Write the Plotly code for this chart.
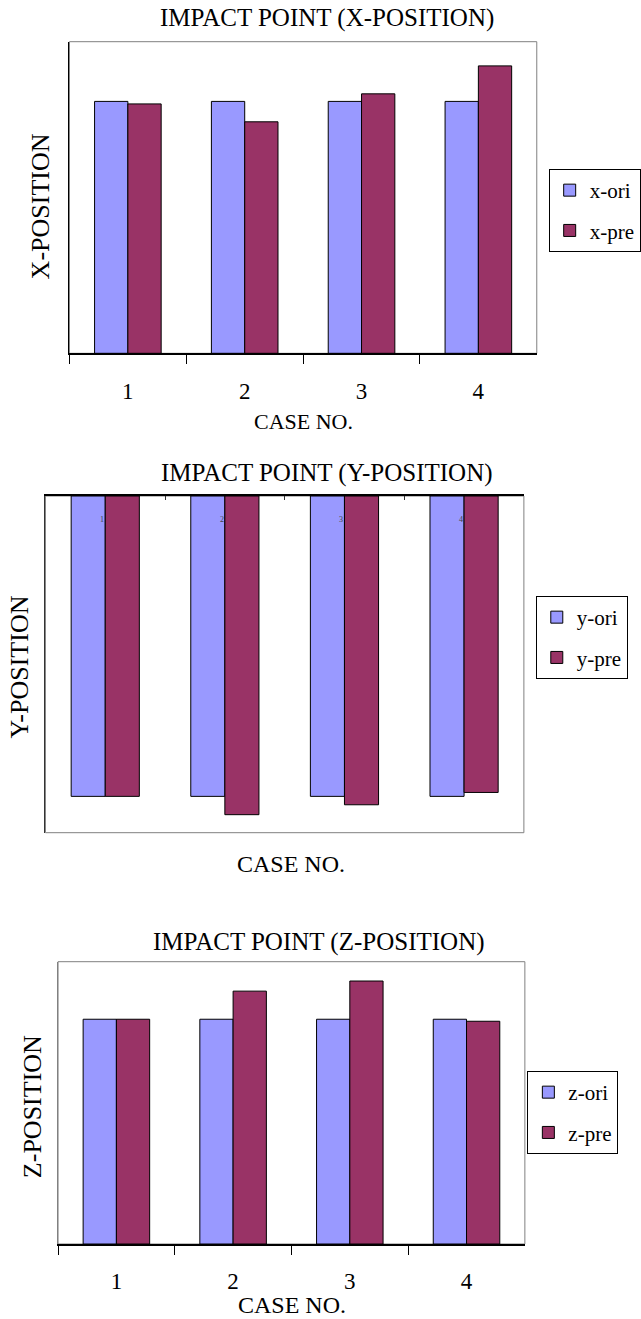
import plotly.graph_objects as go

# Impact point comparison: original vs predicted positions for four cases
cases = ["1", "2", "3", "4"]

x_ori = [10.0, 10.0, 10.0, 10.0]
x_pre = [9.90, 9.19, 10.30, 11.41]

y_ori = [-10.0, -10.0, -10.0, -10.0]
y_pre = [-10.0, -10.61, -10.28, -9.87]

z_ori = [10.0, 10.0, 10.0, 10.0]
z_pre = [10.0, 11.25, 11.70, 9.91]

W, H = 641, 1319
ORI_COLOR = "#9999FF"
PRE_COLOR = "#993366"
FONT = "Liberation Serif, Times New Roman, serif"


def px(x):
    return x / W


def py(y):
    return 1 - y / H


fig = go.Figure()

panels = [
    # (suffix, ori, pre, names, legend)
    ("", x_ori, x_pre, ("x-ori", "x-pre"), "legend"),
    ("2", y_ori, y_pre, ("y-ori", "y-pre"), "legend2"),
    ("3", z_ori, z_pre, ("z-ori", "z-pre"), "legend3"),
]

for suffix, ori, pre, names, leg in panels:
    for vals, name, color in ((ori, names[0], ORI_COLOR), (pre, names[1], PRE_COLOR)):
        fig.add_trace(go.Bar(
            x=cases, y=vals, name=name,
            marker=dict(color=color, line=dict(color="black", width=1)),
            xaxis="x" + suffix, yaxis="y" + suffix,
            legend=leg, legendgroup=name,
        ))

# plot-area frames in pixel space
frames = {
    "": (70, 41.7, 541, 353.3),
    "2": (45.8, 496, 528, 832.7),
    "3": (58.5, 961.7, 529, 1244),
}

tick_font = dict(family=FONT, size=23, color="black")
cat_range = [-0.5, len(cases) - 0.5]

layout = dict(
    width=W, height=H,
    margin=dict(l=0, r=0, t=0, b=0),
    paper_bgcolor="white", plot_bgcolor="white",
    showlegend=True,
    barmode="group", bargap=0.43, bargroupgap=0,
    font=dict(family=FONT, color="black"),
)

# X-position panel
l, t, r, b = frames[""]
layout["xaxis"] = dict(
    domain=[px(l), px(r)], anchor="y", type="category", range=cat_range,
    showline=True, linecolor="black", linewidth=1.5,
    ticks="outside", tickson="boundaries", ticklen=9, tickcolor="black",
    tickfont=tick_font, ticklabelstandoff=16, showgrid=False,
)
layout["yaxis"] = dict(
    domain=[py(b), py(t)], anchor="x", range=[0, 12.37],
    showticklabels=False, ticks="", showgrid=False, zeroline=False,
    showline=True, linecolor="black", linewidth=1,
)

# Y-position panel (bars hang from the top axis)
l, t, r, b = frames["2"]
layout["xaxis2"] = dict(
    domain=[px(l), px(r)], anchor="y2", type="category", side="top",
    range=cat_range,
    showline=True, linecolor="black", linewidth=1.5,
    ticks="inside", tickson="boundaries", ticklen=4, tickcolor="#333333",
    showticklabels=False, showgrid=False,
)
layout["yaxis2"] = dict(
    domain=[py(b), py(t)], anchor="x2", range=[-11.21, 0],
    showticklabels=False, ticks="", showgrid=False, zeroline=False,
    showline=True, linecolor="#333333", linewidth=1,
)

# Z-position panel
l, t, r, b = frames["3"]
layout["xaxis3"] = dict(
    domain=[px(l), px(r)], anchor="y3", type="category", range=cat_range,
    showline=True, linecolor="black", linewidth=1.5,
    ticks="outside", tickson="boundaries", ticklen=9, tickcolor="black",
    tickfont=tick_font, ticklabelstandoff=16, showgrid=False,
)
layout["yaxis3"] = dict(
    domain=[py(b), py(t)], anchor="x3", range=[0, 12.56],
    showticklabels=False, ticks="", showgrid=False, zeroline=False,
    showline=True, linecolor="#808080", linewidth=1,
)

legend_style = dict(
    bgcolor="white", bordercolor="black", borderwidth=1,
    font=dict(family=FONT, size=21, color="black"),
    tracegroupgap=10, xanchor="left", yanchor="top",
    itemclick=False, itemdoubleclick=False,
)
layout["legend"] = dict(legend_style, x=px(553), y=py(169))
layout["legend2"] = dict(legend_style, x=px(540), y=py(596))
layout["legend3"] = dict(legend_style, x=px(531.5), y=py(1071))

fig.update_layout(**layout)

# gray border around each plot area
for key, (l, t, r, b) in frames.items():
    fig.add_shape(
        type="rect", xref="paper", yref="paper",
        x0=px(l), x1=px(r), y0=py(b), y1=py(t),
        line=dict(color="#808080", width=1), layer="below",
    )

# small case numbers just under the top axis of the Y-position panel
for i, c in enumerate(cases):
    fig.add_annotation(
        text=c, x=i, y=-0.77, xref="x2", yref="y2", xshift=-3,
        xanchor="center", yanchor="middle", showarrow=False,
        font=dict(family=FONT, size=8, color="#444444"),
    )

texts = [
    ("IMPACT POINT (X-POSITION)", 329.5, 17.5, 0, 25),
    ("X-POSITION", 41, 206.7, -90, 26),
    ("CASE NO.", 305.6, 421.7, 0, 22),
    ("IMPACT POINT (Y-POSITION)", 330, 473.3, 0, 25),
    ("Y-POSITION", 20, 666.7, -90, 26),
    ("CASE NO.", 293, 864, 0, 24),
    ("IMPACT POINT (Z-POSITION)", 321.5, 941.7, 0, 25),
    ("Z-POSITION", 32.7, 1106.7, -90, 26),
    ("CASE NO.", 294, 1305, 0, 24),
]
for txt, x, y, ang, size in texts:
    fig.add_annotation(
        text=txt, x=px(x), y=py(y), xref="paper", yref="paper",
        xanchor="center", yanchor="middle", showarrow=False, textangle=ang,
        font=dict(family=FONT, size=size, color="black"),
    )

fig.write_html("out.html")
